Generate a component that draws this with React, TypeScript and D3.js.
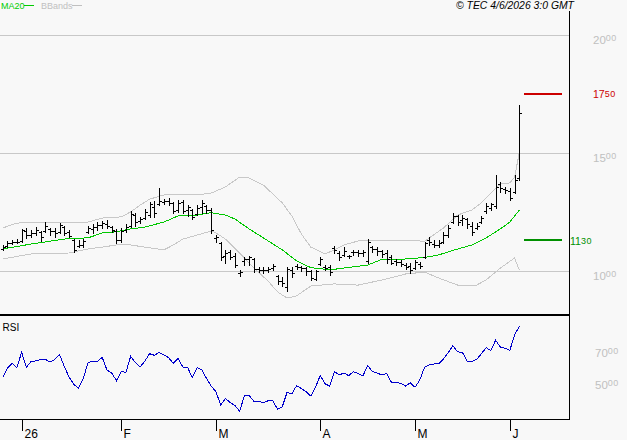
import React, { useEffect, useRef } from 'react';
import * as d3 from 'd3';

// daily OHLC bars, oldest first (late Dec 2025 -> 3 Jun 2026)
const opens = [
	10.92, 11.05, 11.17, 11.22, 11.26, 11.68, 11.51, 11.6, 11.64, 11.68,
	11.77, 11.68, 11.64, 11.85, 11.64, 11.3, 11.05, 11.09, 11.64, 11.77,
	11.85, 11.94, 11.98, 11.85, 11.68, 11.3, 11.72, 11.89, 12.36, 12.11,
	12.23, 12.36, 12.7, 12.83, 12.91, 12.95, 12.87, 12.57, 12.91, 12.57,
	12.57, 12.4, 12.7, 12.74, 12.57, 11.39, 11.17, 10.62, 10.79, 10.62,
	9.9, 10.41, 10.5, 10.5, 10.07, 10.03, 10.03, 10.11, 9.77, 9.56,
	9.31, 10.03, 10.2, 10.16, 10.11, 9.99, 9.65, 10.28, 10.16, 10.16,
	10.96, 10.75, 10.67, 10.62, 10.79, 10.79, 10.75, 10.41, 11.0, 10.92,
	10.83, 10.75, 10.58, 10.41, 10.37, 10.24, 10.2, 10.11, 10.28, 10.58,
	11.3, 11.13, 11.09, 11.22, 11.51, 12.06, 12.32, 12.15, 12.19, 11.89,
	11.81, 12.06, 12.53, 12.66, 12.74, 13.67, 13.46, 13.38, 13.33, 13.93
];
const highs = [
	11.09, 11.26, 11.3, 11.34, 11.77, 11.81, 11.72, 11.85, 11.68, 12.06,
	11.81, 11.81, 12.02, 11.89, 11.72, 11.34, 11.3, 11.34, 11.89, 11.98,
	12.06, 12.11, 12.15, 11.89, 11.77, 11.81, 11.98, 12.53, 12.44, 12.28,
	12.61, 12.91, 12.95, 13.5, 13.04, 13.08, 12.91, 13.0, 13.0, 12.78,
	12.61, 12.78, 13.0, 12.78, 12.66, 11.51, 11.22, 10.88, 10.88, 10.75,
	10.03, 10.58, 10.62, 10.54, 10.16, 10.16, 10.16, 10.28, 9.82, 9.73,
	10.16, 10.16, 10.28, 10.2, 10.16, 10.03, 10.03, 10.58, 10.24, 10.24,
	11.05, 10.83, 11.0, 10.67, 10.88, 10.88, 10.88, 11.34, 11.05, 11.0,
	10.88, 10.88, 10.67, 10.5, 10.45, 10.33, 10.33, 10.45, 10.37, 11.22,
	11.43, 11.3, 11.3, 11.64, 11.94, 12.44, 12.36, 12.36, 12.23, 12.06,
	12.02, 12.32, 12.87, 12.87, 14.05, 13.76, 13.55, 13.5, 14.05, 17.02
];
const lows = [
	10.88, 11.0, 11.13, 11.17, 11.22, 11.39, 11.43, 11.51, 11.26, 11.64,
	11.51, 11.43, 11.6, 11.51, 11.43, 10.79, 11.0, 11.0, 11.6, 11.6,
	11.72, 11.81, 11.81, 11.64, 11.17, 11.22, 11.64, 11.85, 11.89, 12.02,
	12.19, 12.28, 12.28, 12.78, 12.83, 12.78, 12.44, 12.49, 12.44, 12.32,
	12.19, 12.36, 12.44, 12.44, 11.6, 11.22, 10.45, 10.33, 10.5, 10.16,
	9.77, 10.24, 10.24, 9.94, 9.94, 9.9, 9.94, 10.03, 9.44, 9.35,
	9.14, 9.73, 10.07, 9.99, 9.82, 9.61, 9.61, 10.24, 10.03, 9.82,
	10.75, 10.45, 10.62, 10.54, 10.67, 10.62, 10.62, 10.33, 10.79, 10.67,
	10.58, 10.33, 10.28, 10.24, 10.2, 10.07, 9.9, 10.07, 10.11, 10.54,
	11.09, 11.0, 11.0, 11.17, 11.43, 12.02, 11.94, 11.94, 11.81, 11.51,
	11.77, 12.02, 12.44, 12.57, 12.66, 13.33, 13.29, 13.0, 13.29, 13.84
];
const closes = [
	11.0, 11.17, 11.22, 11.22, 11.72, 11.51, 11.6, 11.72, 11.43, 11.89,
	11.68, 11.6, 11.94, 11.6, 11.47, 10.88, 11.09, 11.26, 11.81, 11.85,
	11.94, 12.02, 11.89, 11.72, 11.3, 11.68, 11.85, 12.4, 12.06, 12.19,
	12.49, 12.83, 12.44, 12.95, 12.95, 12.87, 12.53, 12.87, 12.53, 12.7,
	12.28, 12.66, 12.87, 12.57, 11.72, 11.43, 10.58, 10.75, 10.58, 10.24,
	9.94, 10.5, 10.58, 10.07, 10.03, 10.03, 10.07, 10.2, 9.56, 9.48,
	10.07, 9.9, 10.16, 10.11, 9.99, 9.69, 9.99, 10.5, 10.11, 9.94,
	10.88, 10.58, 10.83, 10.62, 10.79, 10.75, 10.79, 11.22, 10.92, 10.83,
	10.71, 10.5, 10.33, 10.37, 10.28, 10.16, 10.03, 10.37, 10.2, 11.17,
	11.22, 11.09, 11.17, 11.51, 11.81, 12.32, 12.06, 12.23, 11.98, 11.64,
	11.89, 12.23, 12.74, 12.83, 13.55, 13.5, 13.42, 13.08, 13.84, 16.68
];

// [bar index, value]
const ma20 = [
	[0, 10.92], [6, 11.13], [14, 11.37], [18, 11.39], [21, 11.6], [24, 11.65],
	[27, 11.77], [30, 11.85], [34, 12.06], [37, 12.32], [41, 12.36], [44, 12.46],
	[47, 12.36], [49, 12.19], [52, 11.77], [55, 11.39], [59, 10.88], [62, 10.42],
	[65, 10.13], [68, 10.06], [70, 10.06], [73, 10.14], [77, 10.24], [80, 10.48],
	[84, 10.48], [87, 10.53], [89, 10.56], [92, 10.67], [96, 10.92], [99, 11.09],
	[102, 11.39], [105, 11.77], [107, 12.06], [109, 12.57]
];
const bandUp = [
	[0, 11.81], [3, 12.02], [9, 12.03], [14, 12.03], [18, 12.06], [21, 12.23],
	[25, 12.28], [27, 12.49], [29, 12.78], [31, 13.03], [34, 13.21], [37, 13.25],
	[41, 13.21], [44, 13.29], [47, 13.55], [50, 13.97], [52, 13.93], [55, 13.63],
	[57, 13.25], [59, 12.87], [61, 12.32], [63, 11.56], [65, 11.0], [68, 10.71],
	[70, 10.88], [72, 11.09], [75, 11.26], [80, 11.28], [84, 11.3], [88, 11.26],
	[89, 11.24], [90, 11.39], [93, 11.81], [96, 12.36], [99, 12.57], [101, 12.87],
	[103, 13.29], [105, 13.67], [107, 13.72], [108, 13.97], [109, 14.99]
];
const bandLow = [
	[0, 10.5], [6, 10.71], [14, 10.75], [18, 10.92], [21, 11.0], [24, 11.09],
	[27, 11.09], [30, 11.0], [34, 10.88], [36, 11.09], [38, 11.34], [41, 11.51],
	[44, 11.68], [45, 11.6], [47, 11.34], [50, 10.75], [53, 10.11], [56, 9.56],
	[58, 9.1], [60, 8.84], [62, 8.93], [65, 9.35], [70, 9.44], [75, 9.39],
	[81, 9.65], [85, 9.86], [89, 9.94], [92, 9.69], [96, 9.39], [100, 9.39],
	[102, 9.61], [105, 10.11], [108, 10.54], [109, 10.03]
];

const rsi = [
	51.7, 57.4, 60.5, 57.8, 67.5, 58.0, 61.8, 62.0, 63.0, 63.0,
	61.3, 63.0, 66.0, 58.4, 51.9, 47.3, 44.7, 51.0, 60.9, 61.8,
	61.8, 64.3, 56.3, 54.4, 49.6, 55.3, 54.8, 64.9, 60.9, 58.2,
	62.0, 66.6, 65.6, 67.3, 65.8, 64.1, 60.5, 63.7, 58.2, 58.0,
	51.5, 57.8, 56.5, 51.0, 46.2, 42.6, 34.2, 38.4, 35.7, 34.0,
	30.2, 40.3, 40.3, 36.5, 36.5, 35.7, 36.9, 36.9, 31.5, 33.2,
	42.2, 41.2, 46.4, 44.7, 42.6, 39.9, 45.4, 52.9, 47.7, 46.0,
	55.3, 53.2, 54.4, 52.7, 55.3, 54.0, 52.5, 59.1, 55.3, 54.4,
	53.2, 54.2, 48.7, 48.5, 47.9, 46.2, 48.3, 45.4, 50.0, 58.0,
	59.5, 60.1, 60.3, 63.3, 67.3, 71.7, 67.7, 67.5, 61.8, 61.8,
	63.0, 66.6, 70.4, 68.5, 75.1, 70.8, 70.0, 68.7, 78.4, 83.9
];

const monthLabels = ['26', 'F', 'M', 'A', 'M', 'J'];
const monthStarts = [4, 25, 45, 67, 87, 107];
const priceTicks = [10, 15, 20];
const rsiTicks = [50, 70];
const resistance = 17.5;
const support = 11.3;

const FONT = 'Arial, "Liberation Sans", sans-serif';

const App = () => {
	const ref = useRef(null);

	useEffect(() => {
		const svg = d3.select(ref.current);
		svg.selectAll('*').remove();

		const x = d3.scaleLinear().domain([0, closes.length - 1]).range([2.7, 519.3]);
		const y = d3.scaleLinear().domain([10, 20]).range([270.7, 34.7]);
		const yR = d3.scaleLinear().domain([50, 70]).range([380, 348.3]);
		const px = i => Math.round(x(i));
		const py = v => Math.round(y(v));

		svg.append('rect').attr('width', 627).attr('height', 440).attr('fill', '#f8f8f8');

		// price grid
		priceTicks.forEach(v => {
			svg.append('line')
				.attr('x1', 0).attr('x2', 569)
				.attr('y1', py(v) + 0.5).attr('y2', py(v) + 0.5)
				.attr('stroke', '#c8c8c8');
		});

		const line = d3.line().x(d => x(d[0])).y(d => y(d[1]));
		[bandUp, bandLow].forEach(b => {
			svg.append('path').attr('d', line(b))
				.attr('fill', 'none').attr('stroke', '#c8c8c8').attr('stroke-width', 1)
				.attr('shape-rendering', 'crispEdges');
		});
		svg.append('path').attr('d', line(ma20))
			.attr('fill', 'none').attr('stroke', '#00c800').attr('stroke-width', 1)
			.attr('shape-rendering', 'crispEdges');

		// OHLC bars
		const bars = svg.append('g').attr('fill', '#000').attr('shape-rendering', 'crispEdges');
		closes.forEach((c, i) => {
			const cx = px(i);
			const top = py(highs[i]);
			const bot = py(lows[i]);
			bars.append('rect').attr('x', cx).attr('y', top).attr('width', 1).attr('height', Math.max(1, bot - top + 1));
			bars.append('rect').attr('x', cx - 2).attr('y', py(opens[i])).attr('width', 2).attr('height', 1);
			bars.append('rect').attr('x', cx + 1).attr('y', py(c)).attr('width', 2).attr('height', 1);
		});

		// levels
		svg.append('rect').attr('x', 524).attr('width', 38).attr('y', py(resistance) - 1).attr('height', 2).attr('fill', '#cc0000');
		svg.append('rect').attr('x', 524).attr('width', 38).attr('y', py(support) - 1).attr('height', 2).attr('fill', '#009000');

		const fmt = d3.format('.2f');
		const splitLabel = (v, lx, ly, color, big, small, rise) => {
			const [a, b] = fmt(v).split('.');
			const t = svg.append('text').attr('x', lx).attr('y', ly)
				.attr('fill', color).style('font-family', FONT);
			t.append('tspan').style('font-size', big + 'px').text(a);
			t.append('tspan').attr('dy', -rise).style('font-size', small + 'px')
				.style('letter-spacing', '0.5px').text(b);
		};

		priceTicks.forEach(v => splitLabel(v, 593, y(v) + 9.5, '#c0c0c0', 11.5, 9, 3));
		splitLabel(resistance, 593, y(resistance) + 4, '#cc0000', 10.5, 9, 0.5);
		splitLabel(support, 570, y(support) + 4.5, '#009000', 10.5, 9, 0.5);

		// frame
		svg.append('line').attr('x1', 569.5).attr('x2', 569.5).attr('y1', 11).attr('y2', 420).attr('stroke', '#000');
		svg.append('rect').attr('x', 0).attr('y', 314).attr('width', 570).attr('height', 2).attr('fill', '#000');
		svg.append('line').attr('x1', 0).attr('x2', 570).attr('y1', 419.5).attr('y2', 419.5).attr('stroke', '#000');

		// RSI panel
		svg.append('path')
			.attr('d', d3.line().x((d, i) => x(i)).y(d => yR(d))(rsi))
			.attr('fill', 'none').attr('stroke', '#0000cc').attr('stroke-width', 1)
			.attr('shape-rendering', 'crispEdges');
		rsiTicks.forEach(v => splitLabel(v, 595, yR(v) + 9, '#c0c0c0', 11.5, 9, 3));
		svg.append('text').attr('x', 2.5).attr('y', 331).style('font-family', FONT)
			.style('font-size', '10px').text('RSI');

		// month axis
		monthStarts.forEach((m, k) => {
			const tx = px(m) + 0.5;
			svg.append('line').attr('x1', tx).attr('x2', tx).attr('y1', 420).attr('y2', 431).attr('stroke', '#000');
			svg.append('text').attr('x', tx + 2).attr('y', 438).style('font-family', FONT)
				.style('font-size', '12px').text(monthLabels[k]);
		});

		// legend and stamp
		svg.append('text').attr('x', 1).attr('y', 8.5).attr('fill', '#00cc00')
			.style('font-family', FONT).style('font-size', '9px').text('MA20');
		svg.append('line').attr('x1', 24).attr('x2', 34).attr('y1', 5.5).attr('y2', 5.5).attr('stroke', '#00cc00');
		svg.append('text').attr('x', 41).attr('y', 8.5).attr('fill', '#c0c0c0')
			.style('font-family', FONT).style('font-size', '9px').text('BBands');
		svg.append('line').attr('x1', 72).attr('x2', 82).attr('y1', 5.5).attr('y2', 5.5).attr('stroke', '#c0c0c0');
		svg.append('text').attr('x', 456).attr('y', 8.5).style('font-family', FONT)
			.style('font-style', 'italic').style('font-size', '10.4px').text('© TEC 4/6/2026 3:0 GMT');
	}, []);

	return (
		<svg
			ref={ref}
			width={627}
			height={440}
			style={{ position: 'absolute', left: 0, top: 0, display: 'block' }}
		/>
	);
};

export default App;
